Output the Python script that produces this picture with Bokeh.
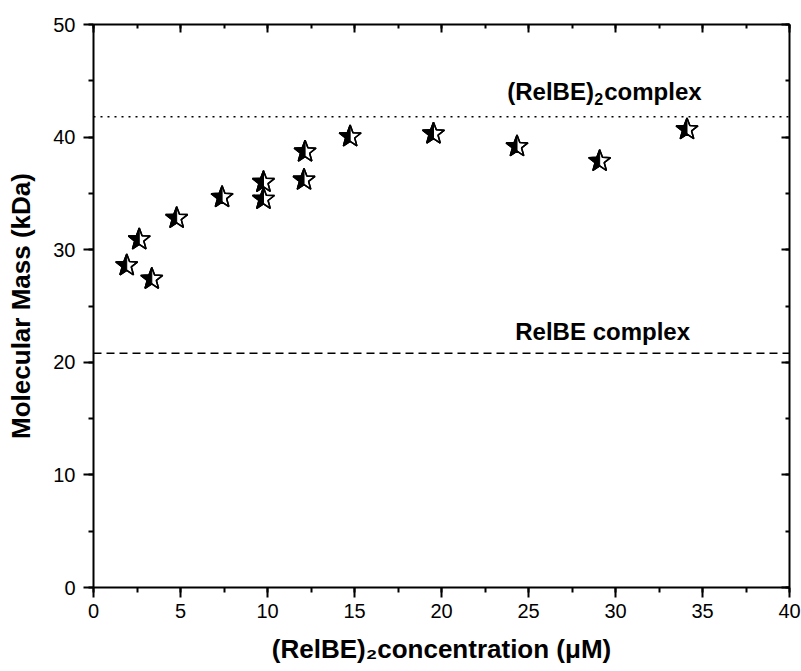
import math
from bokeh.plotting import figure
from bokeh.models import (Range1d, LinearAxis, SingleIntervalTicker, Span, Label,
                          CustomJSTickFormatter)
from bokeh.embed import file_html
from bokeh.resources import INLINE

# ---- data ----
conc = [1.91, 2.63, 3.35, 4.78, 7.39, 9.77, 9.77, 12.1, 12.16, 14.75, 19.54, 24.34, 29.09, 34.11]
mass = [28.6, 30.9, 27.4, 32.8, 34.66, 36.0, 34.5, 36.2, 38.7, 40.05, 40.3, 39.17, 37.86, 40.68]
dimer_level = [41.8]
monomer_level = [20.8]
x_title = "(RelBE)\u2082concentration (\u03bcM)"
y_title = "Molecular Mass (kDa)"

FONT = "Liberation Sans"
W, H = 801, 671
BL, BR, BT, BB = 93, 12, 24, 84
XMIN, XMAX, YMIN, YMAX = 0, 40, 0, 50

p = figure(width=W, height=H, output_backend="svg", toolbar_location=None,
           x_range=Range1d(XMIN, XMAX), y_range=Range1d(YMIN, YMAX),
           min_border_left=BL, min_border_right=BR, min_border_top=BT, min_border_bottom=BB,
           x_axis_type=None, y_axis_type=None)
p.grid.visible = False
p.outline_line_color = None
p.background_fill_color = "white"
p.border_fill_color = "white"

def style_axis(ax, outside=True, labels=True):
    ax.axis_line_width = 2
    ax.major_tick_line_width = 2
    ax.minor_tick_line_width = 2
    if outside:
        ax.major_tick_out, ax.major_tick_in = 10, 0
        ax.minor_tick_out, ax.minor_tick_in = 5, 0
    else:
        ax.major_tick_out, ax.major_tick_in = 0, 8
        ax.minor_tick_out, ax.minor_tick_in = 0, 4
    ax.major_label_text_font = FONT
    ax.major_label_text_font_size = "20px"
    ax.major_label_text_color = "black"
    ax.axis_label_text_font = FONT
    ax.axis_label_text_font_style = "bold"
    ax.axis_label_text_font_size = "26px"
    ax.axis_label_text_color = "black"
    if not labels:
        ax.formatter = CustomJSTickFormatter(code="return ''")

xt = lambda: SingleIntervalTicker(interval=5, num_minor_ticks=2)
yt = lambda: SingleIntervalTicker(interval=10, num_minor_ticks=2)

xb = LinearAxis(ticker=xt()); style_axis(xb); xb.major_label_standoff = 6
xb.axis_label = x_title
xb.axis_label_standoff = 13
yl = LinearAxis(ticker=yt()); style_axis(yl); yl.major_label_standoff = 8
yl.axis_label = y_title
yl.axis_label_standoff = 14
xa = LinearAxis(ticker=xt()); style_axis(xa, outside=False, labels=False)
yr = LinearAxis(ticker=yt()); style_axis(yr, outside=False, labels=False)
p.add_layout(xb, "below")
p.add_layout(yl, "left")
p.add_layout(xa, "above")
p.add_layout(yr, "right")

# reference lines
p.add_layout(Span(location=dimer_level[0], dimension="width", line_color="black",
                  line_width=1.5, line_dash="2 5"))
p.add_layout(Span(location=monomer_level[0], dimension="width", line_color="black",
                  line_width=1.5, line_dash="8 5"))

# half-filled star markers built around each data point
fw = W - BL - BR
fh = H - BT - BB
sx = (XMAX - XMIN) / fw
sy = (YMAX - YMIN) / fh
R_OUT, R_IN = 11.5, 4.8

def star(cx, cy, half=False):
    n = 6 if half else 10
    xs, ys = [], []
    for k in range(n):
        a = math.radians(90 + 36 * k)
        r = R_OUT if k % 2 == 0 else R_IN
        xs.append(cx + r * math.cos(a) * sx)
        ys.append(cy + r * math.sin(a) * sy)
    return xs, ys

for cx, cy in zip(conc, mass):
    fx, fy = star(cx, cy)
    hx, hy = star(cx, cy, half=True)
    p.patch(fx, fy, fill_color="white", line_color="black", line_width=1.5)
    p.patch(hx, hy, fill_color="black", line_color="black", line_width=1.0)
    p.patch(fx, fy, fill_color=None, line_color="black", line_width=1.5)

def lab(x, y, text, size, xo=0, yo=0, bold=True):
    p.add_layout(Label(x=x, y=y, x_offset=xo, y_offset=yo, text=text, text_font=FONT,
                       text_font_size=f"{size}px", text_font_style="bold" if bold else "normal",
                       text_color="black", text_baseline="alphabetic", text_align="left"))

# annotation texts
ax0, ay0 = 23.78, 43.3
lab(ax0, ay0, "(RelBE)", 24, yo=8)
lab(ax0, ay0, "2", 16, xo=87, yo=1)
lab(ax0, ay0, "complex", 24, xo=97, yo=8)
lab(24.24, 22.0, "RelBE complex", 24, yo=8)

open("out.html", "w").write(file_html(p, INLINE))
